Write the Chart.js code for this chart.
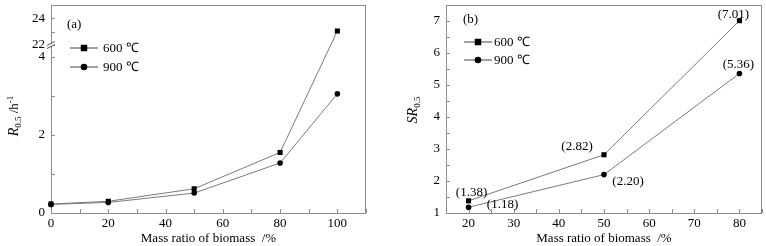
<!DOCTYPE html>
<html>
<head>
<meta charset="utf-8">
<script src="https://cdn.jsdelivr.net/npm/chart.js@4.4.1/dist/chart.umd.min.js"></script>
<style>
  html, body { margin: 0; padding: 0; background: #fff; }
  #wrap { position: relative; width: 766px; height: 246px; }
  canvas { position: absolute; top: 0; }
  #chart-a { left: 0; }
  #chart-b { left: 390px; }
</style>
</head>
<body>
<div id="wrap">
  <canvas id="chart-a" width="380" height="246"></canvas>
  <canvas id="chart-b" width="376" height="246"></canvas>
</div>
<script>
// Panel (a): R0.5 vs mass ratio of biomass
const massA = [0, 20, 50, 80, 100]
const rate600 = [0.23, 0.3, 0.62, 1.55, 23.05]
const rate900 = [0.22, 0.27, 0.51, 1.28, 3.05]
const yTicksA = [0, 1, 2, 3, 4, 22, 23, 24]
const yLabelsA = [0, 2, 4, 22, 24]

// Panel (b): SR0.5 vs mass ratio of biomass
const massB = [20, 50, 80]
const sr600 = [1.38, 2.82, 7.01]
const sr900 = [1.18, 2.2, 5.36]

const seriesNames = ['600 \u2103', '900 \u2103']

const FONT = "'Liberation Serif', 'Times New Roman', serif"
const FRAME_COLOR = '#8c8c8c'
const LINE_COLOR = '#7a7a7a'

Chart.defaults.font.family = FONT
Chart.defaults.font.size = 13
Chart.defaults.color = '#000'

// y axis of (a) is cut between 4.3 and 22
const LOW_MAX = 4.3
const HIGH_MIN = 22
const HIGH_MAX = 25
const SPLIT = 168 / 208

class BrokenLinearScale extends Chart.LinearScale {
  buildTicks() {
    return yTicksA.map(value => ({ value }))
  }
  getPixelForValue(value) {
    let dec
    if (value <= LOW_MAX) dec = (value / LOW_MAX) * SPLIT
    else dec = SPLIT + ((value - HIGH_MIN) / (HIGH_MAX - HIGH_MIN)) * (1 - SPLIT)
    return this.getPixelForDecimal(dec)
  }
  getValueForPixel(pixel) {
    const dec = this.getDecimalForPixel(pixel)
    if (dec <= SPLIT) return (dec / SPLIT) * LOW_MAX
    return HIGH_MIN + ((dec - SPLIT) / (1 - SPLIT)) * (HIGH_MAX - HIGH_MIN)
  }
}
BrokenLinearScale.id = 'brokenLinear'
BrokenLinearScale.defaults = Chart.LinearScale.defaults
Chart.register(BrokenLinearScale)

function fontStr(size, italic) {
  return (italic ? 'italic ' : '') + size + 'px ' + FONT
}

// draw a run of text pieces (sub/superscripts), rotated for the y title
function drawRich(ctx, parts, cx, cy, rotate) {
  ctx.save()
  ctx.translate(cx, cy)
  if (rotate) ctx.rotate(-Math.PI / 2)
  let w = 0
  parts.forEach(p => {
    ctx.font = fontStr(p.size, p.italic)
    p.w = ctx.measureText(p.text).width
    w += p.w
  })
  let x = -w / 2
  ctx.textAlign = 'left'
  ctx.textBaseline = 'alphabetic'
  ctx.fillStyle = '#000'
  parts.forEach(p => {
    ctx.font = fontStr(p.size, p.italic)
    ctx.fillText(p.text, x, 4.5 + (p.dy || 0))
    x += p.w
  })
  ctx.restore()
}

const panelDecor = {
  id: 'panelDecor',
  beforeDatasetsDraw(chart) {
    const { ctx, chartArea: a } = chart
    ctx.save()
    ctx.strokeStyle = FRAME_COLOR
    ctx.lineWidth = 1
    ctx.strokeRect(a.left + 0.5, a.top + 0.5, a.right - a.left - 1, a.bottom - a.top)
    // inward tick marks
    const xs = chart.scales.x
    xs.ticks.forEach((t, i) => {
      const px = Math.round(xs.getPixelForTick(i)) + 0.5
      ctx.beginPath()
      ctx.moveTo(px, a.bottom)
      ctx.lineTo(px, a.bottom - 4)
      ctx.stroke()
    })
    const ys = chart.scales.y
    ys.ticks.forEach((t, i) => {
      const py = Math.round(ys.getPixelForTick(i)) + 0.5
      ctx.beginPath()
      ctx.moveTo(a.left, py)
      ctx.lineTo(a.left + 4, py)
      ctx.stroke()
    })
    ctx.restore()
  },
  afterDatasetsDraw(chart, args, opts) {
    const { ctx, chartArea: a } = chart
    ctx.save()

    // axis break
    if (opts.breakAxis) {
      const py = (chart.scales.y.getPixelForValue(LOW_MAX) + chart.scales.y.getPixelForValue(HIGH_MIN)) / 2
      ctx.fillStyle = '#fff'
      ctx.fillRect(a.left - 1, py - 1.5, 3, 3)
      ctx.strokeStyle = '#555'
      ctx.lineWidth = 1
      ;[-1.5, 1.5].forEach(d => {
        ctx.beginPath()
        ctx.moveTo(a.left - 4, py + d + 2)
        ctx.lineTo(a.left + 4, py + d - 2)
        ctx.stroke()
      })
    }

    // legend
    const lg = opts.legend
    chart.data.datasets.forEach((ds, i) => {
      const y = lg.y + i * lg.gap
      ctx.strokeStyle = '#444'
      ctx.lineWidth = 1
      ctx.beginPath()
      ctx.moveTo(lg.x, y + 0.5)
      ctx.lineTo(lg.x + lg.len, y + 0.5)
      ctx.stroke()
      ctx.fillStyle = '#000'
      Chart.helpers.drawPoint(ctx, {
        pointStyle: ds.pointStyle,
        radius: ds.pointStyle === 'rect' ? 4.6 : 3.3,
        rotation: 0,
        borderWidth: 0
      }, lg.x + lg.len / 2, y + 0.5)
      ctx.font = fontStr(13)
      ctx.textAlign = 'left'
      ctx.textBaseline = 'middle'
      ctx.fillText(ds.label, lg.x + lg.len + lg.textGap, y + 1)
    })

    // panel tag
    ctx.font = fontStr(13)
    ctx.textAlign = 'left'
    ctx.textBaseline = 'middle'
    ctx.fillStyle = '#000'
    ctx.fillText(opts.tag.text, opts.tag.x, opts.tag.y)

    // value labels next to points
    if (opts.pointLabels) {
      ctx.textAlign = 'center'
      chart.data.datasets.forEach((ds, i) => {
        const meta = chart.getDatasetMeta(i)
        meta.data.forEach((pt, j) => {
          const off = opts.pointLabels[i][j]
          ctx.fillText('(' + ds.data[j].y.toFixed(2) + ')', pt.x + off[0], pt.y + off[1])
        })
      })
    }

    // axis titles
    drawRich(ctx, opts.yTitle.parts, opts.yTitle.x, opts.yTitle.y, true)
    drawRich(ctx, [{ text: 'Mass ratio of biomass  /%', size: 13 }], (a.left + a.right) / 2, 237, false)
    ctx.restore()
  }
}

function fitY(width) {
  return s => {
    s.width = width
    s.paddingTop = 0
    s.paddingBottom = 0
  }
}
function fitX(s) {
  s.height = 33
  s.paddingLeft = 0
  s.paddingRight = 0
}

function lineDataset(label, xs, ys, style, radius) {
  return {
    label,
    data: xs.map((x, i) => ({ x, y: ys[i] })),
    borderColor: LINE_COLOR,
    borderWidth: 1,
    backgroundColor: '#000',
    pointBackgroundColor: '#000',
    pointBorderWidth: 0,
    pointStyle: style,
    pointRadius: radius,
    tension: 0,
    clip: false
  }
}

const chartA = new Chart(document.getElementById('chart-a').getContext('2d'), {
  type: 'line',
  data: {
    datasets: [
      lineDataset(seriesNames[0], massA, rate600, 'rect', 3.6),
      lineDataset(seriesNames[1], massA, rate900, 'circle', 2.8)
    ]
  },
  plugins: [panelDecor],
  options: {
    responsive: false,
    animation: false,
    devicePixelRatio: 1,
    layout: { padding: { top: 5, right: 14, left: 0, bottom: 0 } },
    plugins: {
      legend: { display: false },
      tooltip: { enabled: false },
      panelDecor: {
        breakAxis: true,
        legend: { x: 70, y: 47.5, gap: 19, len: 28, textGap: 5 },
        tag: { text: '(a)', x: 67, y: 25 },
        yTitle: {
          x: 13,
          y: 116,
          parts: [
            { text: 'R', size: 14, italic: true },
            { text: '0.5', size: 9, dy: 3 },
            { text: ' /h', size: 13 },
            { text: '-1', size: 9, dy: -5 }
          ]
        }
      }
    },
    scales: {
      x: {
        type: 'linear',
        min: 0,
        max: 110,
        grid: { display: false, drawTicks: false },
        border: { display: false },
        ticks: {
          stepSize: 10,
          includeBounds: false,
          autoSkip: false,
          maxRotation: 0,
          padding: 3,
          callback: v => (v % 20 === 0 ? String(v) : '')
        },
        afterFit: fitX
      },
      y: {
        type: 'brokenLinear',
        min: 0,
        max: HIGH_MAX,
        grid: { display: false, drawTicks: false },
        border: { display: false },
        ticks: {
          autoSkip: false,
          padding: 6,
          callback: v => (yLabelsA.includes(v) ? String(v) : '')
        },
        afterFit: fitY(51)
      }
    }
  }
})

const chartB = new Chart(document.getElementById('chart-b').getContext('2d'), {
  type: 'line',
  data: {
    datasets: [
      lineDataset(seriesNames[0], massB, sr600, 'rect', 3.6),
      lineDataset(seriesNames[1], massB, sr900, 'circle', 2.8)
    ]
  },
  plugins: [panelDecor],
  options: {
    responsive: false,
    animation: false,
    devicePixelRatio: 1,
    layout: { padding: { top: 5, right: 3, left: 0, bottom: 0 } },
    plugins: {
      legend: { display: false },
      tooltip: { enabled: false },
      panelDecor: {
        breakAxis: false,
        legend: { x: 74, y: 41.5, gap: 18, len: 28, textGap: 2 },
        tag: { text: '(b)', x: 73, y: 20 },
        pointLabels: [
          [[3, -8], [-27, -8], [-6, -6]],
          [[34, -3], [24, 7], [-1, -9]]
        ],
        yTitle: {
          x: 22,
          y: 110,
          parts: [
            { text: 'SR', size: 14, italic: true },
            { text: '0.5', size: 9, dy: 3 }
          ]
        }
      }
    },
    scales: {
      x: {
        type: 'linear',
        min: 15,
        max: 85,
        grid: { display: false, drawTicks: false },
        border: { display: false },
        ticks: {
          stepSize: 5,
          autoSkip: false,
          maxRotation: 0,
          padding: 3,
          callback: v => (v % 10 === 0 ? String(v) : '')
        },
        afterFit: fitX
      },
      y: {
        min: 1,
        max: 7.5,
        grid: { display: false, drawTicks: false },
        border: { display: false },
        ticks: {
          stepSize: 0.5,
          autoSkip: false,
          padding: 6,
          callback: v => (Number.isInteger(v) ? String(v) : '')
        },
        afterFit: fitY(56)
      }
    }
  }
})
</script>
</body>
</html>
